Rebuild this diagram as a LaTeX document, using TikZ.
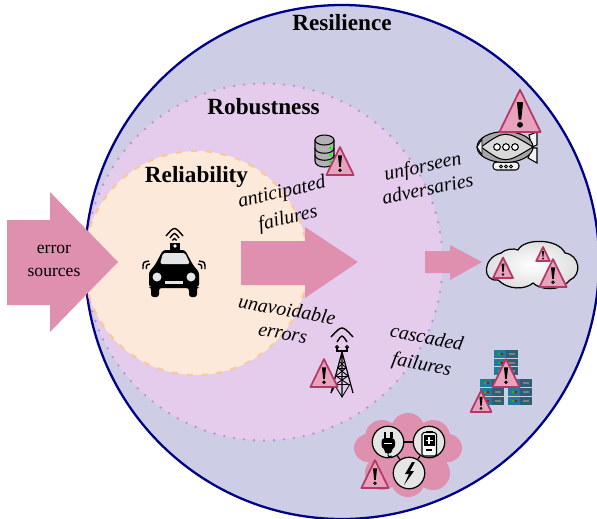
\documentclass[tikz,border=0pt]{standalone}
\usepackage{fontspec}
\setmainfont{Liberation Serif}
\usepackage{tikz}

\definecolor{resfill}{HTML}{CDCDE6}
\definecolor{resedge}{HTML}{000088}
\definecolor{robfill}{HTML}{E5CCEC}
\definecolor{robedge}{HTML}{C58ADB}
\definecolor{relfill}{HTML}{FDE9D9}
\definecolor{reledge}{HTML}{F9C89A}
\definecolor{arrowpink}{HTML}{DF90AE}
\definecolor{warnfill}{HTML}{E8A2BC}
\definecolor{warnedge}{HTML}{B23A68}
\definecolor{rackteal}{HTML}{23799A}
\definecolor{rackdark}{HTML}{2F5F75}

\tikzset{
  circlelabel/.style={font=\fontsize{13.2}{15}\selectfont\bfseries},
  sidelabel/.style={font=\fontsize{11.3}{15.2}\selectfont\itshape,align=center},
  hubcircle/.style={circle,draw=black,line width=0.7pt,fill=black!10,minimum size=0.63cm,inner sep=0pt},
  hubline/.style={line width=0.7pt},
  waveline/.style={line width=0.8pt},
  warnsign/.pic={
    \draw[line width=1pt,draw=warnedge,fill=warnfill,line join=round] (-20,0) -- (0,-41) -- (20,0) -- cycle;
    \fill[black] (0,-7) circle (2.8);
    \fill[black] (-3,-29) -- (3,-29) -- (1.2,-12) -- (-1.2,-12) -- cycle;
  },
  rackunit/.pic={
    \fill[rackteal] (0,0) rectangle (12,7.5);
    \fill[rackdark] (12,0) rectangle (24,7.5);
    \fill[green!80!black] (4,3) rectangle (6,5);
    \fill[red!80!black] (6.5,3) rectangle (8.5,5);
    \fill[gray] (15,3) rectangle (21,5);
  }
}

\begin{document}
\begin{tikzpicture}[x=0.02cm,y=-0.02cm]
  \useasboundingbox (0,0) rectangle (597,518);

  % Circles
  \draw[draw=resedge,line width=1.3pt,fill=resfill] (342,262) circle (257);
  \draw[draw=robedge,line width=1.5pt,line cap=round,dash pattern=on 0pt off 5.7pt,fill=robfill] (264,262) circle (178.5);
  \draw[draw=reledge,line width=1.2pt,dash pattern=on 3.5pt off 5pt,fill=relfill] (196,263) circle (112);

  % Arrows
  \fill[arrowpink] (7,220) -- (50,220) -- (50,192) -- (118,262) -- (50,332) -- (50,305) -- (7,305) -- cycle;
  \fill[arrowpink] (241,241) -- (305,241) -- (305,227) -- (358,262) -- (305,298) -- (305,285) -- (241,285) -- cycle;
  \fill[arrowpink] (425,251) -- (450,251) -- (450,245) -- (482,262) -- (450,280) -- (450,273) -- (425,273) -- cycle;

  % Labels
  \node[circlelabel] (resilience) at (342,23) {Resilience};
  \node[circlelabel] (robustness) at (263.5,107) {Robustness};
  \node[circlelabel] (reliability) at (196.5,177) {Reliability};
  \node[font=\fontsize{10}{13.5}\selectfont,align=center] (sources) at (54,261) {error\\sources};
  \node[sidelabel,rotate=13] (anticipated) at (285,206) {anticipated\\failures};
  \node[sidelabel,rotate=12] (unforseen) at (425,177) {unforseen\\[-1.8pt]adversaries};
  \node[sidelabel,rotate=-10] (unavoidable) at (285,321) {unavoidable\\[-1.8pt]errors};
  \node[sidelabel,rotate=-11] (cascaded) at (424,352) {cascaded\\failures};

  % Car
  \fill[black,rounded corners=1.5pt] (163,250) -- (185,250) -- (193,265) -- (199,272) -- (199,287) -- (197,287) -- (197,297) -- (189,297) -- (189,288) -- (159,288) -- (159,297) -- (151,297) -- (151,287) -- (149,287) -- (149,272) -- (155,265) -- cycle;
  \fill[black!10,rounded corners=1pt] (160,264) -- (190,264) -- (185,253) -- (163,253) -- cycle;
  \fill[black!10] (157,277) circle (4.5);
  \fill[black!10] (191,277) circle (4.5);
  \fill[black!10] (165,280.5) rectangle (183,283.5);
  \fill[black] (170,243) rectangle (180,250);
  \fill[white] (175,246) circle (1.8);
  \draw[waveline] (166,236) .. controls (174.5,226) .. (183,236);
  \draw[waveline] (170,238) .. controls (174.5,232) .. (179,238);
  \draw[waveline] (172.5,240.5) .. controls (174.5,238) .. (176.5,240.5);
  \draw[waveline] (143,269) .. controls (143,262) .. (149,261);
  \draw[waveline] (146.5,269) .. controls (146,265) .. (150,264);
  \draw[waveline] (205,269) .. controls (205,262) .. (199,261);
  \draw[waveline] (201.5,269) .. controls (202,265) .. (198,264);

  % Airship
  \draw[fill=black!5,line width=0.6pt] (529,135) -- (537,132) -- (537,145) -- (532,147) -- cycle;
  \draw[fill=black!5,line width=0.6pt] (532,148) -- (537,148) -- (537,163) -- (528,158) -- cycle;
  \draw[fill=black!5,line width=0.6pt,rounded corners=2pt] (493,162) rectangle (519,170);
  \foreach \gx in {501,506,511}
    \draw[line width=0.5pt] (\gx,166.5) circle (1.5);
  \draw[fill=black!35,line width=0.6pt] (505,147) ellipse (28 and 15.5);
  \draw[fill=black!15,line width=0.6pt] (481,147) .. controls (505,130) .. (533,147) .. controls (505,164) .. cycle;
  \foreach \gx in {497,506,515}
    \draw[fill=white,line width=0.6pt] (\gx,147) circle (3.3);
  \draw[fill=black!5,line width=0.5pt] (477,147) -- (482,139) -- (482,155) -- cycle;
  \pic[scale=1.03] at (520,132) {warnsign};

  % Cloud
  \shade[draw=black,line width=0.7pt,inner color=white,outer color=black!14] (501,253) .. controls (505,249) and (514,248) .. (518,250) .. controls (524,238) and (558,238) .. (565,253) .. controls (580,255) and (582,275) .. (570,280) .. controls (560,292) and (540,290) .. (533,283) .. controls (525,290) and (508,290) .. (498,280) .. controls (482,282) and (482,258) .. (501,253) -- cycle;
  \pic[scale=0.5] at (503,278) {warnsign};
  \pic[scale=0.34] at (543,261) {warnsign};
  \pic[scale=0.68] at (553,287) {warnsign};

  % Server racks
  \foreach \rx/\ry in {494/350,494/358.5,494/367,480/379,480/388,480/397,508/379,508/388,508/397}
    \pic at (\rx,\ry) {rackunit};
  \pic[scale=0.68] at (506,387) {warnsign};
  \pic[scale=0.52] at (481,412) {warnsign};

  % Grid cloud
  \fill[arrowpink] (408,455) ellipse (40 and 28);
  \foreach \px/\py/\pr in {368/448/14,382/437/17,408/430/17,433/437/17,448/448/14,433/473/17,408/480/17,382/473/17}
    \fill[arrowpink] (\px,\py) circle (\pr);
  \node[hubcircle] (plug) at (388,442) {};
  \node[hubcircle] (battery) at (429,442) {};
  \node[hubcircle] (bolt) at (409,473) {};
  \draw[hubline] (plug) -- (battery);
  \draw[hubline] (plug) -- (bolt);
  \draw[hubline] (battery) -- (bolt);
  % Plug
  \fill[black] (383.5,432) rectangle (386,438);
  \fill[black] (390,432) rectangle (392.5,438);
  \fill[black,rounded corners=2pt] (381.5,438) rectangle (395,449);
  \fill[black] (383,447) -- (393.5,447) -- (391,453) -- (385.5,453) -- cycle;
  \fill[white] (384,443) rectangle (392,444);
  \draw[line width=0.6pt] (388,453) .. controls (388,457) .. (392,456);
  % Battery
  \draw[fill=white,line width=0.6pt,rounded corners=1pt] (422,432.5) rectangle (436.5,456);
  \fill[black] (426,431) rectangle (432.5,432.5);
  \fill[black] (423.5,435) rectangle (435,446);
  \draw[white,line width=0.8pt] (425.5,440.5) -- (432.5,440.5) (429,437) -- (429,444);
  \draw[line width=0.8pt] (426,450) -- (432,450);
  % Bolt
  \fill[black] (412,462) -- (405,474) -- (409,474) -- (404,485) -- (414,471) -- (410,471) -- (415,462) -- cycle;
  \pic[scale=0.68] at (375,488) {warnsign};

  % Database
  \draw[fill=black!30,line width=0.6pt] (315,140) -- (315,161) .. controls (315,169) and (334,169) .. (334,161) -- (334,140);
  \draw[fill=black!30,line width=0.6pt] (324.5,140) ellipse (9.5 and 5);
  \draw[line width=0.6pt] (315,148) .. controls (315,155) and (334,155) .. (334,148);
  \draw[line width=0.6pt] (315,155) .. controls (315,162) and (334,162) .. (334,155);
  \foreach \dy in {148,155,162}
    \fill[green] (330.5,\dy) circle (1.6);
  \pic[scale=0.68] at (340,175) {warnsign};

  % Tower
  \draw[line width=0.7pt] (342,352) -- (331,393) (342,352) -- (353,393) (342,352) -- (342,397);
  \draw[line width=0.5pt] (338,368) -- (346,368) (336,376) -- (348,376) (334,384) -- (350,384);
  \draw[line width=0.5pt] (339,361) -- (346,368) -- (336,376) -- (348,384) (345,361) -- (338,368) -- (348,376) -- (336,384) -- (331,393) (350,384) -- (342,397) -- (334,384);
  \draw[line width=0.6pt] (337,347) -- (337,351) -- (347,351) -- (347,347);
  \draw[line width=0.6pt] (337,347) circle (1.5);
  \draw[line width=0.6pt] (347,347) circle (1.5);
  \draw[waveline] (331,337) .. controls (342,325) .. (353,337);
  \draw[waveline] (337,342) .. controls (342,334) .. (347,342);
  \pic[scale=0.68] at (324,387) {warnsign};
\end{tikzpicture}
\end{document}
